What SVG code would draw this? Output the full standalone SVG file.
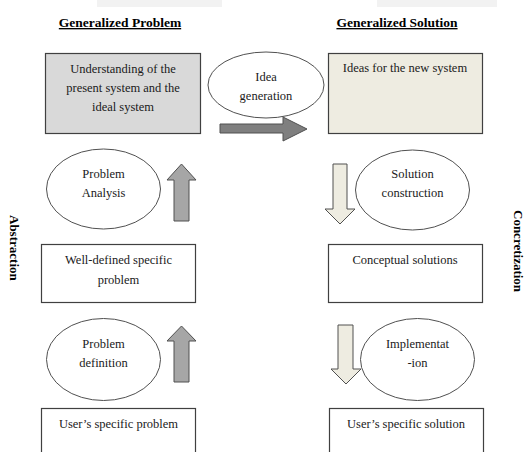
<svg xmlns="http://www.w3.org/2000/svg" width="528" height="452" viewBox="0 0 528 452">
<style>
.t{font-family:"Liberation Serif","Times New Roman",serif;font-size:12.5px;fill:#1a1a1a;text-anchor:middle}
.h{font-family:"Liberation Serif","Times New Roman",serif;font-size:13.5px;font-weight:bold;fill:#000;text-anchor:middle;text-decoration:underline}
.s{font-family:"Liberation Serif","Times New Roman",serif;font-size:13px;font-weight:bold;fill:#000}
.box{stroke:#404040;stroke-width:1.2}
.ell{fill:#fff;stroke:#505050;stroke-width:1}
.arr{stroke:#505050;stroke-width:1}
</style>
<rect width="528" height="452" fill="#fff"/>
<rect x="97" y="0" width="125" height="7" fill="#f2f2f2"/>
<rect x="377" y="0" width="120" height="7" fill="#f2f2f2"/>
<text class="h" x="120" y="27">Generalized Problem</text>
<text class="h" x="397" y="27">Generalized Solution</text>
<text class="s" transform="translate(10,215) rotate(90)">Abstraction</text>
<text class="s" transform="translate(514,210) rotate(90)">Concretization</text>
<g id="understanding">
<rect class="box" x="45.5" y="53.5" width="155" height="80" fill="#d9d9d9"/>
<text class="t" x="123" y="73">Understanding of the</text>
<text class="t" x="123" y="92">present system and the</text>
<text class="t" x="123" y="111">ideal system</text>
</g>
<g id="ideas">
<rect class="box" x="328.5" y="53.5" width="154" height="80" fill="#eeece1"/>
<text class="t" x="405" y="72">Ideas for the new system</text>
</g>
<g id="idea-generation">
<ellipse class="ell" cx="266" cy="85" rx="58" ry="33"/>
<text class="t" x="266" y="81">Idea</text>
<text class="t" x="266" y="100">generation</text>
</g>
<g id="problem-analysis">
<ellipse class="ell" cx="103.5" cy="189" rx="57" ry="40"/>
<text class="t" x="103.5" y="178">Problem</text>
<text class="t" x="103.5" y="197">Analysis</text>
</g>
<g id="solution-construction">
<ellipse class="ell" cx="412.5" cy="190" rx="57" ry="40"/>
<text class="t" x="412.5" y="178">Solution</text>
<text class="t" x="412.5" y="197">construction</text>
</g>
<g id="well-defined">
<rect class="box" x="41.5" y="244.5" width="154" height="58" fill="#fff"/>
<text class="t" x="118.5" y="264">Well-defined specific</text>
<text class="t" x="118.5" y="284">problem</text>
</g>
<g id="conceptual">
<rect class="box" x="328.5" y="244.5" width="154" height="58" fill="#fff"/>
<text class="t" x="405" y="264">Conceptual solutions</text>
</g>
<g id="problem-definition">
<ellipse class="ell" cx="103.5" cy="359.5" rx="57" ry="41"/>
<text class="t" x="103.5" y="348">Problem</text>
<text class="t" x="103.5" y="367">definition</text>
</g>
<g id="implementation">
<ellipse class="ell" cx="417.5" cy="359.5" rx="57" ry="41"/>
<text class="t" x="417.5" y="348">Implementat</text>
<text class="t" x="417.5" y="367">-ion</text>
</g>
<g id="user-problem">
<rect class="box" x="41.5" y="408.5" width="154" height="60" fill="#fff"/>
<text class="t" x="118.5" y="428">User’s specific problem</text>
</g>
<g id="user-solution">
<rect class="box" x="329.5" y="408.5" width="154" height="60" fill="#fff"/>
<text class="t" x="406" y="428">User’s specific solution</text>
</g>
<g id="connectors">
<polygon class="arr" fill="#7f7f7f" points="220,124 283,124 283,117 307,129 283,141 283,133 220,133"/>
<polygon class="arr" fill="#a6a6a6" points="174,221 174,180 167,180 181.5,164 196,180 189,180 189,221"/>
<polygon class="arr" fill="#a6a6a6" points="174,382 174,341 167,341 181.5,326 196,341 189,341 189,382"/>
<polygon class="arr" fill="#eeece1" points="333,164 347,164 347,209 355,209 340,224 325,209 333,209"/>
<polygon class="arr" fill="#eeece1" points="338,325 353,325 353,369 361,369 346,384 331,369 338,369"/>
</g>
</svg>
